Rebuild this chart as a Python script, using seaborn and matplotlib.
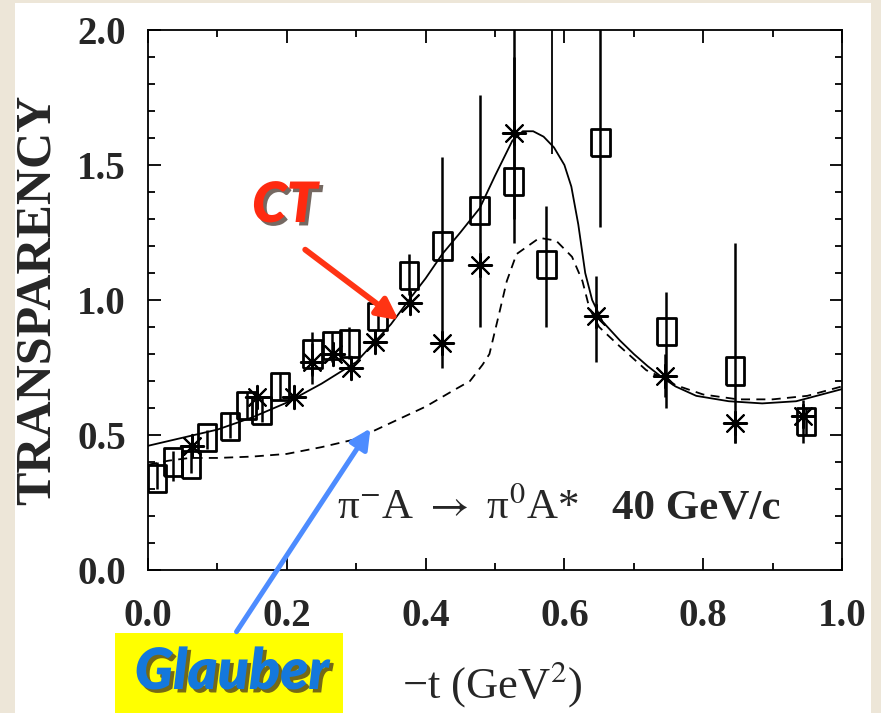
import numpy as np
import pandas as pd
import matplotlib
matplotlib.use("Agg")
import matplotlib.pyplot as plt
import matplotlib.patheffects as pe
from matplotlib.patches import Rectangle, FancyArrowPatch
from matplotlib.ticker import MultipleLocator
import seaborn as sns

# ---------------- data ----------------
sq_x  = [0.013, 0.036, 0.062, 0.085, 0.118, 0.142, 0.164, 0.190, 0.237, 0.265, 0.290,
         0.331, 0.376, 0.424, 0.478, 0.527, 0.574, 0.652, 0.747, 0.846, 0.948]
sq_y  = [0.34, 0.40, 0.39, 0.49, 0.53, 0.61, 0.59, 0.68, 0.80, 0.83, 0.84,
         0.94, 1.09, 1.20, 1.33, 1.44, 1.13, 1.585, 0.885, 0.737, 0.55]
sq_lo = [0.30, 0.33, 0.36, 0.45, 0.49, 0.56, 0.55, 0.63, 0.69, 0.77, 0.78,
         0.89, 1.02, 0.75, 0.90, 1.30, 0.90, 1.27, 0.60, 0.47, 0.50]
sq_hi = [0.40, 0.44, 0.46, 0.52, 0.58, 0.66, 0.64, 0.73, 0.88, 0.88, 0.90,
         0.99, 1.17, 1.53, 1.76, 1.90, 1.35, 2.05, 1.03, 1.21, 0.60]

st_x  = [0.063, 0.157, 0.210, 0.236, 0.267, 0.292, 0.327, 0.377, 0.424, 0.479,
         0.528, 0.646, 0.745, 0.846, 0.944]
st_y  = [0.46, 0.64, 0.64, 0.77, 0.80, 0.75, 0.845, 0.99, 0.84, 1.13,
         1.62, 0.94, 0.72, 0.545, 0.57]
st_lo = [0.43, 0.60, 0.61, 0.72, 0.76, 0.72, 0.82, 0.96, 0.80, 1.10,
         1.21, 0.77, 0.64, 0.47, 0.47]
st_hi = [0.49, 0.68, 0.67, 0.84, 0.84, 0.78, 0.87, 1.02, 0.88, 1.16,
         2.05, 1.09, 0.80, 0.59, 0.63]

extra_x  = [0.582]
extra_lo = [1.54]
extra_hi = [2.05]

ct_x = [0.0, 0.05, 0.10, 0.15, 0.20, 0.25, 0.30, 0.35, 0.376, 0.40, 0.424, 0.45, 0.478,
        0.50, 0.525, 0.54, 0.555, 0.57, 0.585, 0.60, 0.61, 0.62, 0.63, 0.64, 0.655,
        0.68, 0.70, 0.72, 0.74, 0.76, 0.79, 0.837, 0.885, 0.934, 1.0]
ct_y = [0.46, 0.49, 0.52, 0.565, 0.62, 0.69, 0.77, 0.91, 1.00, 1.08, 1.17, 1.25, 1.34,
        1.46, 1.59, 1.625, 1.625, 1.605, 1.565, 1.50, 1.42, 1.28, 1.10, 1.00, 0.92,
        0.85, 0.80, 0.755, 0.715, 0.68, 0.645, 0.625, 0.617, 0.625, 0.67]

gl_x = [0.0, 0.03, 0.06, 0.10, 0.15, 0.20, 0.25, 0.30, 0.35, 0.40, 0.44, 0.464, 0.482,
        0.492, 0.506, 0.517, 0.531, 0.564, 0.588, 0.611, 0.626, 0.636, 0.65, 0.679,
        0.718, 0.747, 0.76, 0.80, 0.85, 0.90, 0.95, 1.0]
gl_y = [0.39, 0.405, 0.415, 0.415, 0.42, 0.43, 0.455, 0.485, 0.545, 0.605, 0.665, 0.70,
        0.76, 0.80, 0.95, 1.07, 1.17, 1.23, 1.22, 1.16, 1.07, 0.97, 0.90, 0.83,
        0.74, 0.705, 0.685, 0.65, 0.632, 0.632, 0.645, 0.68]

xticks = [0.0, 0.2, 0.4, 0.6, 0.8, 1.0]
yticks = [0.0, 0.5, 1.0, 1.5, 2.0]

# ---------------- figure ----------------
sns.set_theme(style="white")
plt.rcParams['font.family'] = ['Liberation Serif', 'DejaVu Serif']
plt.rcParams['mathtext.fontset'] = 'stix'

W, H = 881, 713
fig = plt.figure(figsize=(W / 100, H / 100), dpi=100)
fig.patch.set_facecolor('#ede6d8')
fig.add_artist(Rectangle((15 / W, 0), (871 - 15) / W, (713 - 3) / H,
                         transform=fig.transFigure, facecolor='white',
                         edgecolor='none', zorder=0))

ax = fig.add_axes([148 / W, (713 - 570) / H, (842 - 148) / W, (570 - 30) / H])
ax.set_facecolor('white')

# curves
sns.lineplot(x=ct_x, y=ct_y, ax=ax, color='black', lw=1.3, zorder=3)
sns.lineplot(x=gl_x, y=gl_y, ax=ax, color='black', lw=1.3, zorder=3,
             linestyle=(0, (5, 3.5)))

# error bars
ax.vlines(sq_x, sq_lo, sq_hi, color='black', lw=1.8, zorder=4)
ax.vlines(st_x, st_lo, st_hi, color='black', lw=1.8, zorder=4)
ax.vlines(extra_x, extra_lo, extra_hi, color='black', lw=1.3, zorder=4)

# markers
rect = [(-0.69, -1), (0.69, -1), (0.69, 1), (-0.69, 1), (-0.69, -1)]
sns.scatterplot(x=sq_x, y=sq_y, ax=ax, marker=rect, s=380, color='black',
                linewidth=2.0, zorder=5)
ax.collections[-1].set_facecolor('none')
ax.collections[-1].set_edgecolor('black')
sns.scatterplot(x=st_x, y=st_y, ax=ax, marker=(8, 2, 0), s=280, color='black',
                linewidth=1.5, zorder=6)

ax.set_xlim(0, 1.0)
ax.set_ylim(0, 2.0)
ax.set_xticks(xticks)
ax.set_yticks(yticks)
ax.set_xticklabels([f"{v:.1f}" for v in xticks])
ax.set_yticklabels([f"{v:.1f}" for v in yticks])
ax.xaxis.set_minor_locator(MultipleLocator(0.1))
ax.yaxis.set_minor_locator(MultipleLocator(0.1))
ax.tick_params(which='both', direction='in', top=True, right=True,
               bottom=True, left=True, color='black')
ax.tick_params(which='major', length=9, width=1.3)
ax.tick_params(which='minor', length=5, width=1.3)
ax.tick_params(axis='y', which='major', pad=16, labelsize=28)
ax.tick_params(axis='x', which='major', pad=20, labelsize=28)
for lab in ax.get_xticklabels() + ax.get_yticklabels():
    lab.set_fontweight('bold')
for s in ax.spines.values():
    s.set_color('black')
    s.set_linewidth(1.3)

ax.set_ylabel("TRANSPARENCY", fontsize=36, fontweight='bold', labelpad=12)
ax.set_xlabel("\u2212t (GeV$^{2}$)", fontsize=32)
ax.xaxis.set_label_coords(0.496, -0.165)

# reaction label
ax.text(0.272, 0.19, "\u03c0$^{-}$A $\\rightarrow$ \u03c0$^{0}$A*", fontsize=31,
        ha='left', va='baseline', zorder=7)
ax.text(0.668, 0.19, "40 GeV/c", fontsize=31, fontweight='bold',
        ha='left', va='baseline', zorder=7)

# annotations
shadow = [pe.SimplePatchShadow(offset=(2.5, -2.5), shadow_rgbFace='#3a2a20', alpha=0.7),
          pe.Normal()]
fig.text(285 / W, 1 - 205 / H, "CT", fontsize=40, fontweight='heavy',
         style='italic', family=['Lato', 'DejaVu Sans'], color='#ff2a10',
         ha='center', va='center', path_effects=shadow)

fig.add_artist(Rectangle((115 / W, 0), (343 - 115) / W, (713 - 633) / H,
                         transform=fig.transFigure, facecolor='#ffff00',
                         edgecolor='none', zorder=8))
fig.text(232 / W, 1 - 672 / H, "Glauber", fontsize=41, fontweight='heavy',
         style='italic', family=['Lato', 'DejaVu Sans'], color='#1478dc',
         ha='center', va='center', path_effects=shadow, zorder=9)

red_arrow = FancyArrowPatch((303 / W, 1 - 248 / H), (401 / W, 1 - 322 / H),
                            transform=fig.transFigure, arrowstyle='-|>',
                            mutation_scale=32, lw=4.2, color='#ff3414', zorder=9)
fig.add_artist(red_arrow)
blue_arrow = FancyArrowPatch((235 / W, 1 - 634 / H), (372 / W, 1 - 426 / H),
                             transform=fig.transFigure, arrowstyle='-|>',
                             mutation_scale=30, lw=3.6, color='#4d8cff', zorder=9)
fig.add_artist(blue_arrow)

fig.savefig("out.png", dpi=100, facecolor=fig.get_facecolor())
